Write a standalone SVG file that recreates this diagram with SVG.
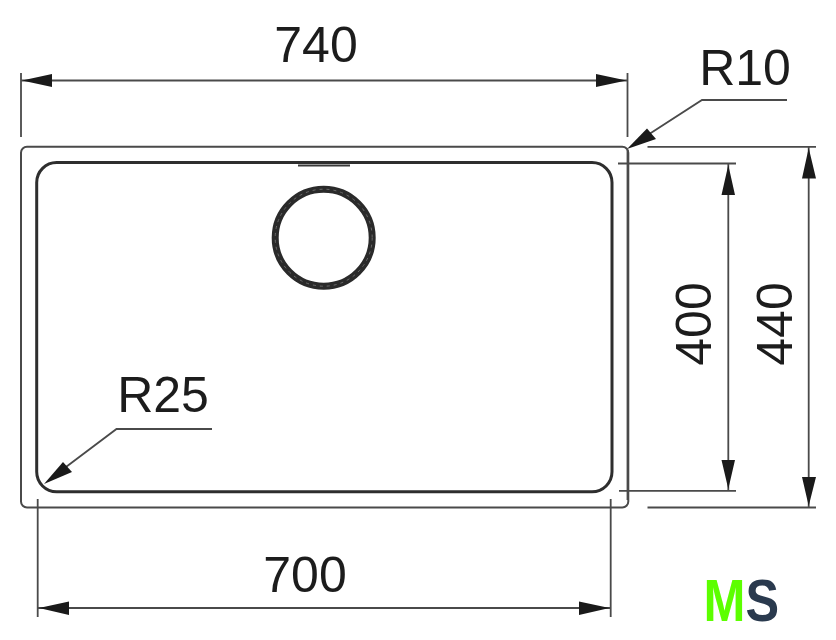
<svg xmlns="http://www.w3.org/2000/svg" width="836" height="640" viewBox="0 0 836 640">
<style>
.d{fill:none;stroke:#4a4a4a;stroke-width:1.8}
.a{fill:#1a1a1a;stroke:none}
.t{font-family:"Liberation Sans",Arial,sans-serif;font-size:50px;fill:#1c1c1c;text-anchor:middle}
</style>
<rect width="836" height="640" fill="#fff"/>
<g id="sink-outer"><rect x="21" y="146.7" width="607.3" height="360.8" rx="6" fill="none" stroke="#4a4a4a" stroke-width="2"/></g>
<g id="sink-bowl"><rect x="36.7" y="162.5" width="575.3" height="329.3" rx="20" fill="none" stroke="#2e2e2e" stroke-width="3"/>
<path d="M298 165.5H350" fill="none" stroke="#3a3a3a" stroke-width="2"/></g>
<g id="drain"><circle cx="323.7" cy="237.7" r="48.5" fill="none" stroke="#2a2a2a" stroke-width="7"/>
<circle cx="323.7" cy="237.7" r="48.5" fill="none" stroke="#6a6a6a" stroke-width="1" stroke-dasharray="3 4"/></g>
<g id="connectors">
<path class="d" d="M21 73V137M627.5 73V137M627.5 150V500M21 80.5H627"/>
<path class="a" d="M22 80.5L52 74V87ZM626.5 80.5L596 74V87Z"/>
<path class="d" d="M37.7 499V617M610.7 499V617M38 608H610"/>
<path class="a" d="M39 608L69 601.5V615ZM609.5 608L579 601.5V615Z"/>
<path class="d" d="M618 163.5H736M619 490.8H736M728.3 164V490"/>
<path class="a" d="M728.3 165L721.5 195H735ZM728.3 489L721.5 460H735Z"/>
<path class="d" d="M647.5 146.8H816M647.5 507.5H816M808.7 147V507"/>
<path class="a" d="M808.7 148L802 178.5H816ZM808.7 506L802 477H816Z"/>
<path class="d" d="M787 100H702L640 140"/>
<path class="a" d="M627 149L647 128.5L656 139Z"/>
<path class="d" d="M212 429H116.5L58 473"/>
<path class="a" d="M44 484L63 462L72 472Z"/>
</g>
<g id="labels">
<text class="t" x="316" y="62">740</text>
<text class="t" x="745" y="85">R10</text>
<text class="t" x="163" y="412">R25</text>
<text class="t" x="305" y="592">700</text>
<text class="t" transform="translate(711 324) rotate(-90)">400</text>
<text class="t" transform="translate(792 324) rotate(-90)">440</text>
</g>
<g id="logo">
<text transform="translate(703.5 621) scale(.84 1)" font-family="'Liberation Sans',Arial,sans-serif" font-weight="700" font-size="60" fill="#5cff00">M<tspan fill="#2a3a4e">S</tspan></text>
</g>
</svg>
